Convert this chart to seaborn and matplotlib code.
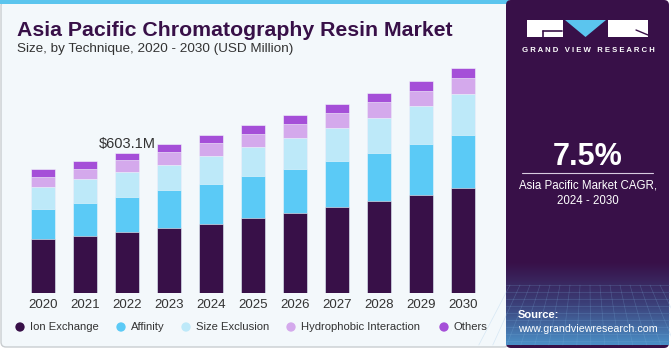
import matplotlib
matplotlib.use("Agg")
import matplotlib.pyplot as plt
import matplotlib.patches as mpatches
import numpy as np
import pandas as pd
import seaborn as sns

years = ["2020", "2021", "2022", "2023", "2024", "2025", "2026", "2027", "2028", "2029", "2030"]
ion_exchange = [233.5, 245.0, 262.3, 279.5, 298.0, 322.5, 345.3, 369.8, 396.9, 422.7, 450.2]
affinity = [129.0, 143.2, 151.8, 163.4, 172.0, 180.6, 187.9, 196.5, 205.1, 218.0, 229.2]
size_exclusion = [93.3, 100.6, 107.5, 108.8, 119.1, 123.4, 133.3, 143.2, 151.8, 164.7, 177.6]
hydrophobic = [44.3, 45.6, 49.0, 55.9, 57.2, 58.5, 61.5, 63.2, 66.2, 64.5, 68.8]
others = [34.4, 31.8, 32.7, 31.8, 34.4, 37.4, 36.1, 40.0, 41.3, 41.7, 41.7]

segments = ["Ion Exchange", "Affinity", "Size Exclusion", "Hydrophobic Interaction", "Others"]
colors = ["#381048", "#5BCAF6", "#BDE9F9", "#D4A9EC", "#A54FD8"]
label_2022 = "$603.1M"

sns.set_theme(style="white")
plt.rcParams["font.family"] = ["Liberation Sans", "DejaVu Sans"]

W, H = 671, 350
fig = plt.figure(figsize=(W / 100, H / 100), dpi=100)
fig.patch.set_facecolor("white")

# background panels in pixel coordinates
bg = fig.add_axes([0, 0, 1, 1])
bg.set_xlim(0, W)
bg.set_ylim(H, 0)
bg.axis("off")
bg.add_patch(mpatches.FancyBboxPatch((1, 1), 508, 346, boxstyle="round,pad=0,rounding_size=5",
                                     facecolor="#F3F8FB", edgecolor="#C9CDD0", linewidth=1))
bg.add_patch(mpatches.Rectangle((0, 0), 509, 4, facecolor="#5BC5EE", edgecolor="none"))
bg.add_patch(mpatches.FancyBboxPatch((506, 0), 163, 348, boxstyle="round,pad=0,rounding_size=5",
                                     facecolor="#381048", edgecolor="none"))

# bottom gradient on right panel
grad = np.linspace(0, 1, 100)[:, None]
cmap = matplotlib.colors.LinearSegmentedColormap.from_list("g", ["#381048", "#3B3F78", "#4B8FC6"])
bg.imshow(grad, extent=(506, 669, 345, 262), cmap=cmap, aspect="auto", zorder=1)
for yy in np.arange(285, 346, 7):
    bg.plot([506, 669], [yy, yy], color="#7FB5E0", alpha=0.25, lw=0.5, zorder=2)
for xx in np.arange(510, 669, 10):
    bg.plot([xx, 588 + (xx - 588) * 1.4], [285, 345], color="#7FB5E0", alpha=0.25, lw=0.5, zorder=2)
bg.set_xlim(0, W)
bg.set_ylim(H, 0)

# logo
bg.add_patch(mpatches.Rectangle((527, 20), 36, 17, facecolor="white", edgecolor="none", zorder=3))
bg.add_patch(mpatches.Polygon([(565, 20), (606, 20), (585.5, 37)], facecolor="#5BC5EE", edgecolor="none", zorder=3))
bg.add_patch(mpatches.Rectangle((608, 20), 40, 17, facecolor="white", edgecolor="none", zorder=3))
bg.plot([543, 562], [31, 31], color="#381048", lw=1.2, zorder=4)
bg.plot([543, 543], [31, 37], color="#381048", lw=1.2, zorder=4)
bg.plot([636, 648], [30, 35], color="#381048", lw=1.0, zorder=4)
bg.text(588, 51, "G R A N D   V I E W   R E S E A R C H", color="white", fontsize=5.6,
        fontweight="bold", ha="center", va="center", zorder=4)

bg.text(588, 157, "7.5%", color="white", fontsize=22, fontweight="bold", ha="center", va="center", zorder=4)
bg.plot([522, 653], [173, 173], color="#D8CCE0", lw=0.8, zorder=4)
bg.text(588, 186, "Asia Pacific Market CAGR,", color="white", fontsize=8.3, ha="center", va="center", zorder=4)
bg.text(588, 201, "2024 - 2030", color="white", fontsize=8.3, ha="center", va="center", zorder=4)
bg.text(518, 315, "Source:", color="white", fontsize=8, fontweight="bold", ha="left", va="center", zorder=4)
bg.text(518, 329, "www.grandviewresearch.com", color="white", fontsize=7.7, ha="left", va="center", zorder=4)

# titles
bg.text(17, 30, "Asia Pacific Chromatography Resin Market", color="#381048", fontsize=15.3,
        fontweight="bold", ha="left", va="center")
bg.text(17, 49, "Size, by Technique, 2020 - 2030 (USD Million)", color="#333333", fontsize=9.7,
        ha="left", va="center")

# legend (manual layout to match reference spacing)
legend_x = [20, 121, 186, 291, 444]
for lx, seg, col in zip(legend_x, segments, colors):
    bg.scatter([lx], [327], s=45, color=col, edgecolors="none", zorder=4)
    bg.text(lx + 10, 327, seg, fontsize=8.1, color="#333333", ha="left", va="center", zorder=4)

# chart axes: x from 22 to 484 px, baseline at 293 px
ax_left, ax_right, ax_top, ax_bottom = 22, 484, 60, 293
ax = fig.add_axes([ax_left / W, 1 - ax_bottom / H, (ax_right - ax_left) / W, (ax_bottom - ax_top) / H])
ax.set_facecolor("none")

df = pd.DataFrame({"year": years, "Ion Exchange": ion_exchange, "Affinity": affinity,
                   "Size Exclusion": size_exclusion, "Hydrophobic Interaction": hydrophobic,
                   "Others": others})
cum = df[segments].cumsum(axis=1)
for seg, col in reversed(list(zip(segments, colors))):
    sns.barplot(x=df["year"], y=cum[seg], color=col, saturation=1, width=0.57, ax=ax,
                edgecolor="#F3F8FB", linewidth=0.4)

ax.set_xlim(-0.5, 10.5)
ax.set_ylim(0, 1002)
ax.set_xlabel("")
ax.set_ylabel("")
ax.set_yticks([])
ax.tick_params(axis="x", length=0, labelsize=9.5, labelcolor="#333333", pad=4)
for s in ax.spines.values():
    s.set_visible(False)

ax.text(2, cum["Others"][2] + 36, label_2022, ha="center", va="center", fontsize=10.5, color="#333333")

fig.savefig("out.png", dpi=100, facecolor=fig.get_facecolor())
